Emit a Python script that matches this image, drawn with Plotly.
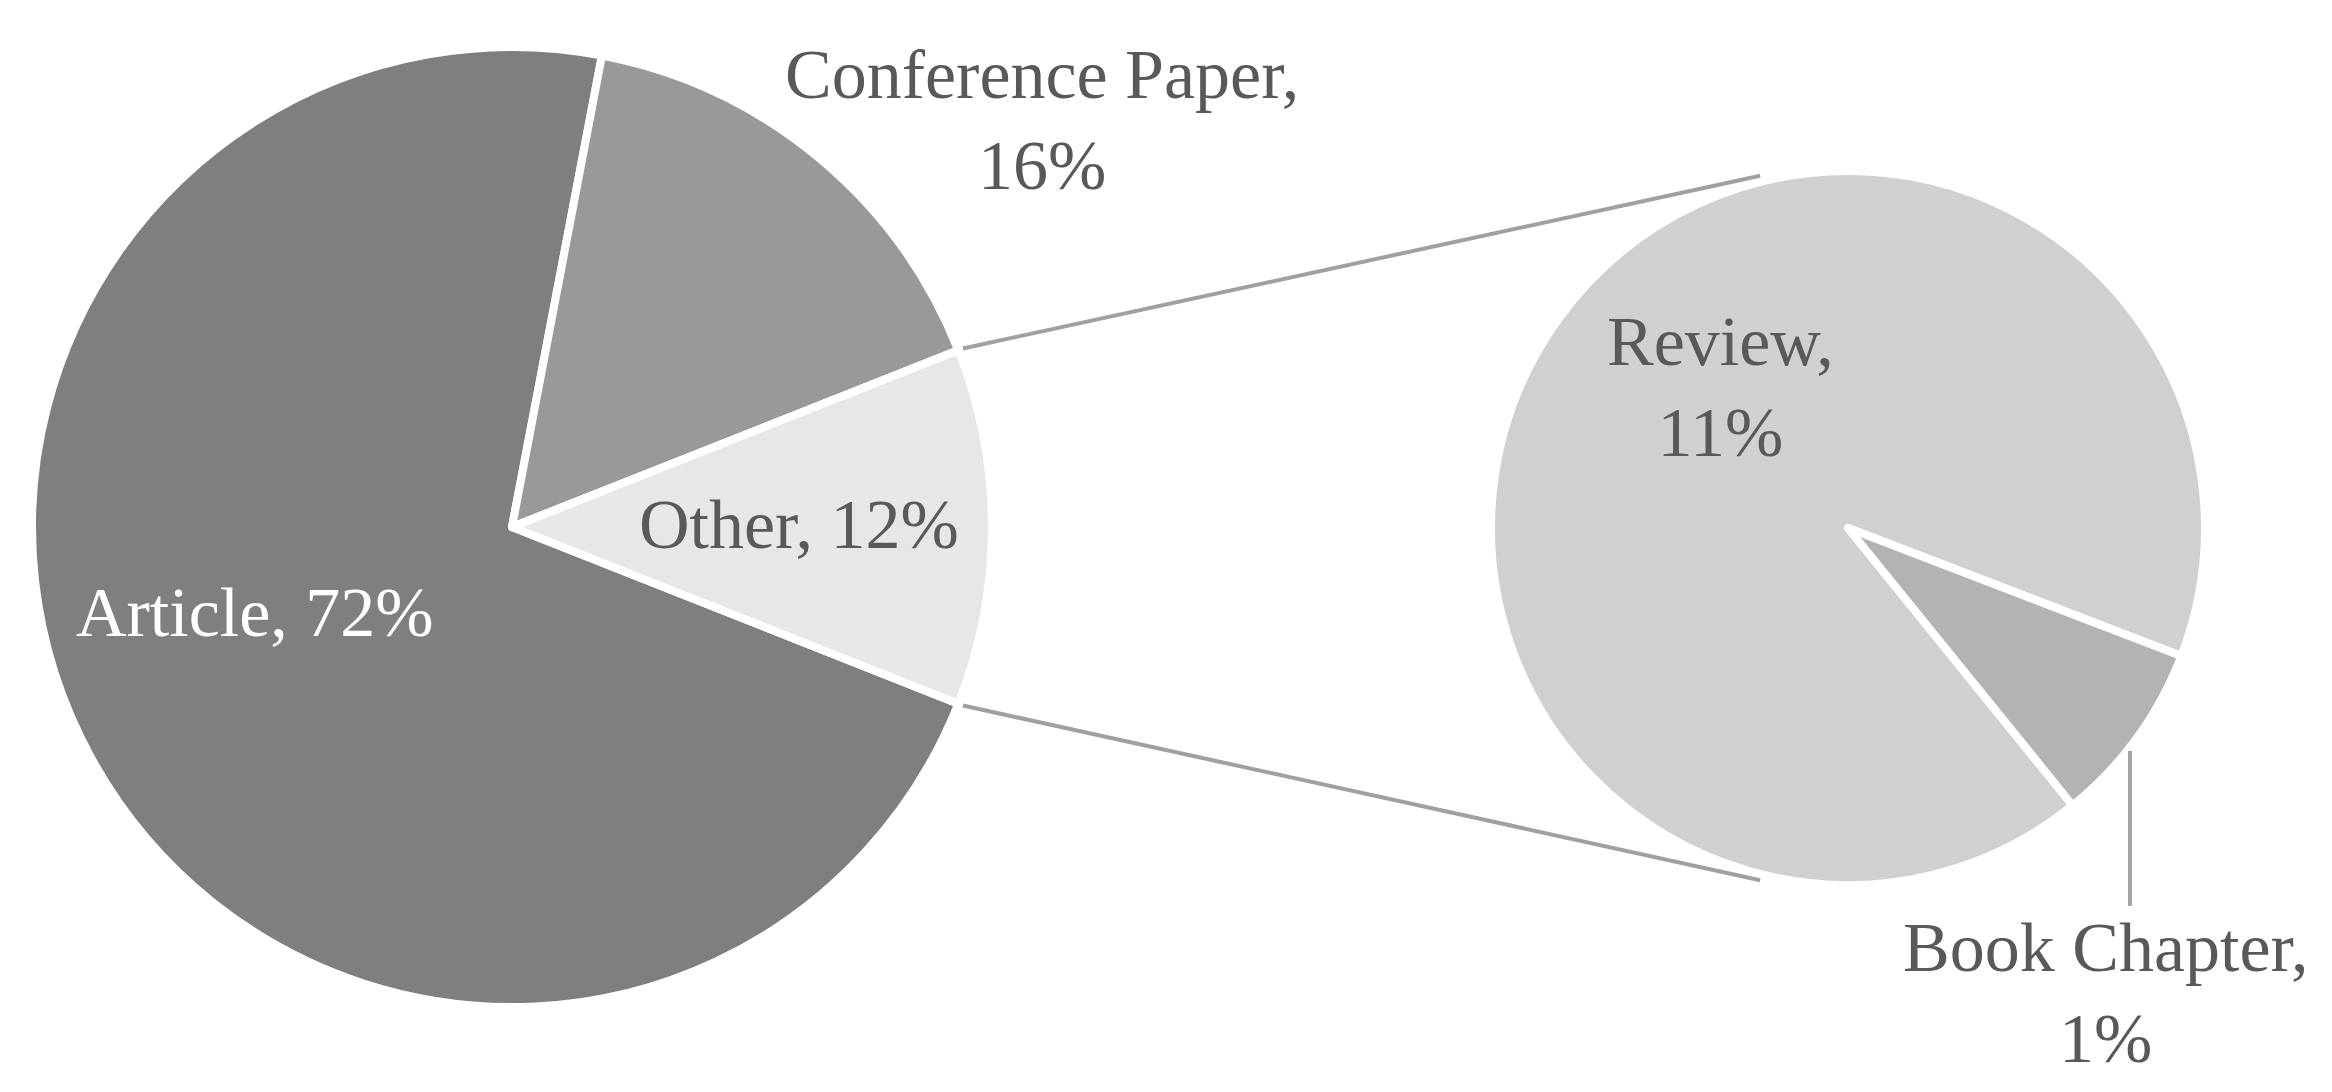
import math
import plotly.graph_objects as go

# data (share of documents, %)
main_labels = ["Article", "Conference Paper", "Other"]
other_labels = ["Review", "Book Chapter"]
other_values = [11, 1]
main_values = [72, 16, sum(other_values)]

main_colors = ["#7f7f7f", "#999999", "#e7e7e7"]
other_colors = ["#d0d0d0", "#b3b3b3"]

W, H = 2332, 1092
FONT = "Liberation Serif"
TXT = "#595959"


def px_x(x):
    return x / W


def px_y(y):
    return 1 - y / H


# pie geometry in pixels (centre x, centre y, radius)
c1x, c1y, r1 = 504, 519, 480
c2x, c2y, r2 = 1840, 520, 357

half_other = main_values[2] / sum(main_values) * 180  # half angle of "Other" slice

fig = go.Figure()

fig.add_trace(go.Pie(
    labels=main_labels, values=main_values,
    sort=False, direction="clockwise", rotation=90 + half_other,
    marker=dict(colors=main_colors, line=dict(color="white", width=8)),
    textinfo="none", hoverinfo="label+percent", showlegend=False,
    domain=dict(x=[px_x(c1x - r1), px_x(c1x + r1)], y=[px_y(c1y + r1), px_y(c1y - r1)]),
))

fig.add_trace(go.Pie(
    labels=other_labels, values=other_values,
    sort=False, direction="clockwise", rotation=141,
    marker=dict(colors=other_colors, line=dict(color="white", width=8)),
    textinfo="none", hoverinfo="label+value", showlegend=False,
    domain=dict(x=[px_x(c2x - r2), px_x(c2x + r2)], y=[px_y(c2y + r2), px_y(c2y - r2)]),
))

# connector lines between the "Other" slice and the second pie
a = math.radians(half_other)
b = math.radians(104)
for s in (1, -1):
    x0 = c1x + (r1 + 5) * math.cos(a)
    y0 = c1y - s * (r1 + 5) * math.sin(a)
    x1 = c2x + (r2 + 6) * math.cos(b)
    y1 = c2y - s * (r2 + 6) * math.sin(b)
    fig.add_shape(type="line", xref="paper", yref="paper",
                  x0=px_x(x0), y0=px_y(y0), x1=px_x(x1), y1=px_y(y1),
                  line=dict(color="#a0a0a0", width=4))

# leader line for Book Chapter
fig.add_shape(type="line", xref="paper", yref="paper",
              x0=px_x(2122), y0=px_y(743), x1=px_x(2122), y1=px_y(898),
              line=dict(color="#a6a6a6", width=4))

# data labels
def lab(name, val, sep):
    return f"{name},{sep}{val}%"

labels = [
    (lab(main_labels[0], main_values[0], " "), 247, 604, "white"),
    (lab(main_labels[1], main_values[1], "<br>"), 1034, 112, TXT),
    (lab(main_labels[2], main_values[2], " "), 791, 516, TXT),
    (lab(other_labels[0], other_values[0], "<br>"), 1712, 379, TXT),
    (lab(other_labels[1], other_values[1], "<br>"), 2097, 985, TXT),
]
for text, x, y, col in labels:
    fig.add_annotation(text=text, x=px_x(x), y=px_y(y), xref="paper", yref="paper",
                       xanchor="center", yanchor="middle", showarrow=False,
                       font=dict(family=FONT, size=70, color=col))

fig.update_layout(
    width=W, height=H,
    margin=dict(l=0, r=0, t=0, b=0),
    paper_bgcolor="white", plot_bgcolor="white",
)

fig.write_html("out.html")
